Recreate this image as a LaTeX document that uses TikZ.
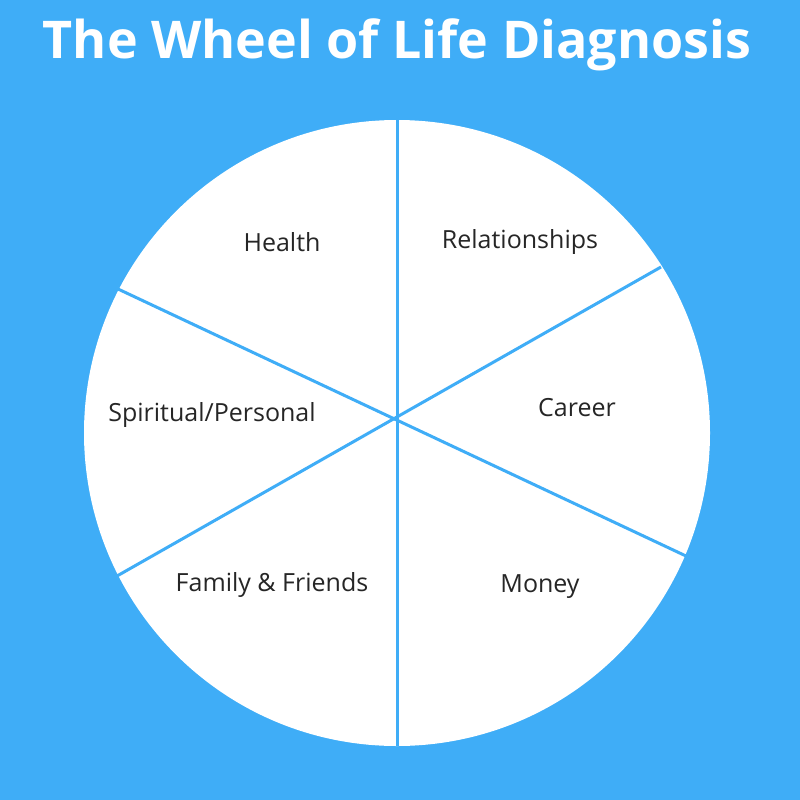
\documentclass[tikz,border=0pt]{standalone}
\usepackage{fontspec}
\setmainfont{Open Sans}
\definecolor{bg}{HTML}{3FADF7}
\begin{document}
\begin{tikzpicture}[x=1pt,y=-1pt,
  lab/.style={font=\fontsize{25}{28}\selectfont, text=black!85},
  div/.style={draw=bg, line width=3pt}]
\fill[bg] (0,0) rectangle (800,800);
\useasboundingbox (0,0) rectangle (800,800);
\node[font=\fontsize{52}{60}\selectfont\bfseries, text=white] (title) at (397,45) {The Wheel of Life Diagnosis};
\fill[white] (397,433) circle (313);
\coordinate (t) at (397,120);
\coordinate (b) at (397,746);
\coordinate (ul) at (118,289);
\coordinate (lr) at (686,556);
\coordinate (ur) at (661,267);
\coordinate (ll) at (117,576);
\draw[div] (t) -- (b);
\draw[div] (ul) -- (lr);
\draw[div] (ur) -- (ll);
\node[lab] (h) at (282,242) {Health};
\node[lab] (r) at (520,242) {Relationships};
\node[lab] (s) at (212,415) {Spiritual/Personal};
\node[lab] (c) at (577,408) {Career};
\node[lab] (f) at (272,585) {Family \& Friends};
\node[lab] (m) at (540,587) {Money};
\end{tikzpicture}
\end{document}
